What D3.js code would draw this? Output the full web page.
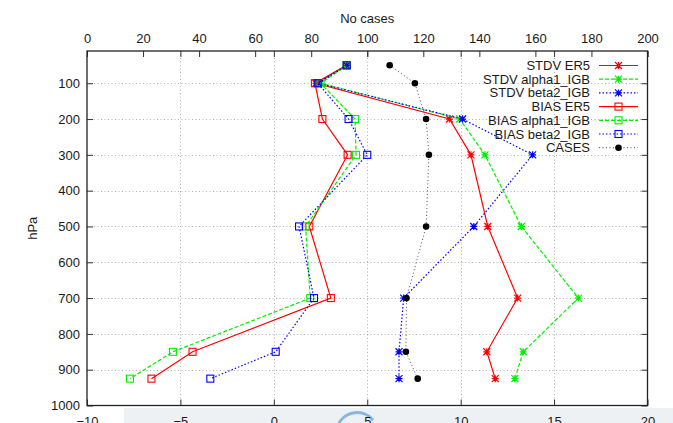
<!DOCTYPE html>
<html>
<head>
<meta charset="utf-8">
<script src="https://cdn.jsdelivr.net/npm/d3@7"></script>
<style>
  body { margin: 0; background: #fff; }
  svg { display: block; font-family: "Liberation Sans", Arial, Helvetica, sans-serif; }
</style>
</head>
<body>
<svg id="chart" width="673" height="423"></svg>
<script>
// Pressure levels (hPa) of the profile
const levels = [50, 100, 200, 300, 500, 700, 850, 925];

// Standard deviation profiles
const stdvEr5    = [3.9, 2.25, 9.4, 10.55, 11.45, 13.05, 11.4, 11.85];
const stdvAlpha1 = [3.9, 2.5, 9.95, 11.3, 13.25, 16.3, 13.35, 12.9];
const stdvBeta2  = [3.9, 2.4, 10.1, 13.85, 10.7, 6.95, 6.7, 6.7];

// Bias profiles
const biasEr5    = [3.9, 2.2, 2.6, 3.95, 1.9, 3.05, -4.35, -6.55];
const biasAlpha1 = [3.9, 2.5, 4.35, 4.4, 1.7, 1.95, -5.4, -7.7];
const biasBeta2  = [3.9, 2.35, 4.0, 5.0, 1.35, 2.15, 0.1, -3.4];

// Number of cases per level (top axis)
const cases = [108, 117, 121, 122, 121, 114, 113.8, 118];

// Tick values
const valueTicks = [-10, -5, 0, 5, 10, 15, 20];
const casesTicks = [0, 20, 40, 60, 80, 100, 120, 140, 160, 180, 200];
const levelTicks = [100, 200, 300, 400, 500, 600, 700, 800, 900, 1000];

const series = [
  { name: "STDV ER5",        values: stdvEr5,    color: "#ff0000", dash: null,    marker: "star",   axis: "value" },
  { name: "STDV alpha1_IGB", values: stdvAlpha1, color: "#00f000", dash: "4,2",   marker: "star",   axis: "value" },
  { name: "STDV beta2_IGB",  values: stdvBeta2,  color: "#0000ff", dash: "1.5,2", marker: "star",   axis: "value" },
  { name: "BIAS ER5",        values: biasEr5,    color: "#ff0000", dash: null,    marker: "square", axis: "value" },
  { name: "BIAS alpha1_IGB", values: biasAlpha1, color: "#00f000", dash: "4,2",   marker: "square", axis: "value" },
  { name: "BIAS beta2_IGB",  values: biasBeta2,  color: "#0000ff", dash: "1.5,2", marker: "square", axis: "value" },
  { name: "CASES",           values: cases,      color: "#000000", dash: "1,2.5", marker: "dot",    axis: "cases" }
];

const frame = { left: 87, right: 647.5, top: 51, bottom: 405.5 };
const svg = d3.select("#chart");
const textColor = "#1a1a1a";
const fontSize = 13;

const x = d3.scaleLinear().domain([-10, 20]).range([frame.left, frame.right]);
const xCases = d3.scaleLinear().domain([0, 200]).range([frame.left, frame.right]);
const y = d3.scaleLinear().domain([10, 1000]).range([frame.top, frame.bottom]);

// Bottom strip behind the lower tick labels
const strip = svg.append("g");
strip.append("rect")
  .attr("x", 124).attr("y", 408).attr("width", 673 - 124).attr("height", 15)
  .attr("fill", "#eef1f4");
strip.append("path")
  .attr("d", d3.arc()({ innerRadius: 19, outerRadius: 22, startAngle: -1.3, endAngle: 0.9 }))
  .attr("transform", "translate(357,433)")
  .attr("fill", "#6fa6dc").attr("opacity", 0.8);

// Dotted grid
const grid = svg.append("g").attr("stroke", "#b0b0b0").attr("stroke-width", 1)
  .attr("stroke-dasharray", "1,2.5");
grid.selectAll("line.h").data(levelTicks.filter(d => d < 1000)).join("line")
  .attr("x1", frame.left).attr("x2", frame.right)
  .attr("y1", d => Math.round(y(d)) + 0.5).attr("y2", d => Math.round(y(d)) + 0.5);
grid.selectAll("line.v").data(valueTicks.filter(d => d > -10 && d < 20)).join("line")
  .attr("y1", frame.top).attr("y2", frame.bottom)
  .attr("x1", d => Math.round(x(d)) + 0.5).attr("x2", d => Math.round(x(d)) + 0.5);

// Axes, ticks pointing inward
const tick = 6;
function styleAxis(g) {
  g.select(".domain").remove();
  g.selectAll(".tick line").attr("stroke", "#333");
  g.selectAll(".tick text").attr("fill", textColor).attr("font-size", fontSize)
    .attr("font-family", "Liberation Sans, Arial, sans-serif");
}
svg.append("g").attr("transform", `translate(0,${frame.bottom})`)
  .call(d3.axisBottom(x).tickValues(valueTicks).tickSize(-tick).tickPadding(11.5)
    .tickFormat(d3.format("d")))
  .call(styleAxis);
svg.append("g").attr("transform", `translate(0,${frame.top})`)
  .call(d3.axisTop(xCases).tickValues(casesTicks).tickSize(-tick).tickPadding(8)
    .tickFormat(d3.format("d")))
  .call(styleAxis);
// mirrored value ticks on the top edge
svg.append("g").attr("transform", `translate(0,${frame.top})`)
  .call(d3.axisTop(x).tickValues(valueTicks).tickSize(-tick).tickFormat(""))
  .call(styleAxis);
svg.append("g").attr("transform", `translate(${frame.left},0)`)
  .call(d3.axisLeft(y).tickValues(levelTicks).tickSize(-tick).tickPadding(7)
    .tickFormat(d3.format("d")))
  .call(styleAxis);
svg.append("g").attr("transform", `translate(${frame.right},0)`)
  .call(d3.axisRight(y).tickValues(levelTicks).tickSize(-tick).tickFormat(""))
  .call(styleAxis);

// Frame
svg.append("rect")
  .attr("x", frame.left).attr("y", frame.top)
  .attr("width", frame.right - frame.left).attr("height", frame.bottom - frame.top)
  .attr("fill", "none").attr("stroke", "#222").attr("stroke-width", 1.3);

// Axis titles
svg.append("text").attr("x", (frame.left + frame.right) / 2).attr("y", 18)
  .attr("text-anchor", "middle").attr("dominant-baseline", "central")
  .attr("font-size", fontSize).attr("fill", textColor).text("No cases");
svg.append("text")
  .attr("transform", `translate(32,${(frame.top + frame.bottom) / 2}) rotate(-90)`)
  .attr("text-anchor", "middle").attr("dominant-baseline", "central")
  .attr("font-size", fontSize).attr("fill", textColor).text("hPa");

// Marker drawing
const s = 3.5;
function drawMarker(g, type, color) {
  if (type === "star") {
    g.append("path")
      .attr("d", `M${-s},0H${s}M0,${-s}V${s}M${-s},${-s}L${s},${s}M${-s},${s}L${s},${-s}`)
      .attr("stroke", color).attr("stroke-width", 1.2).attr("fill", "none");
  } else if (type === "square") {
    g.append("rect").attr("x", -s).attr("y", -s).attr("width", 2 * s).attr("height", 2 * s)
      .attr("stroke", color).attr("stroke-width", 1.1).attr("fill", "none");
  } else {
    g.append("circle").attr("r", 3.3).attr("fill", color);
  }
}

// Profiles
const plot = svg.append("g");
series.forEach(sr => {
  const sx = sr.axis === "cases" ? xCases : x;
  const pts = levels.map((lv, i) => [sx(sr.values[i]), y(lv)]);
  plot.append("path")
    .attr("d", d3.line()(pts))
    .attr("fill", "none").attr("stroke", sr.color)
    .attr("stroke-width", sr.axis === "cases" ? 1 : 1.2)
    .attr("stroke-dasharray", sr.dash)
    .attr("opacity", sr.axis === "cases" ? 0.7 : 1);
  pts.forEach(p => {
    const g = plot.append("g").attr("transform", `translate(${p[0]},${p[1]})`);
    drawMarker(g, sr.marker, sr.color);
  });
});

// Legend
const legend = svg.append("g");
series.forEach((sr, i) => {
  const ly = 65.5 + i * 13.7;
  legend.append("text").attr("x", 590).attr("y", ly)
    .attr("text-anchor", "end").attr("dominant-baseline", "central")
    .attr("font-size", fontSize).attr("fill", textColor).text(sr.name);
  legend.append("line").attr("x1", 599).attr("x2", 638).attr("y1", ly).attr("y2", ly)
    .attr("stroke", sr.color).attr("stroke-width", sr.axis === "cases" ? 1 : 1.2)
    .attr("stroke-dasharray", sr.dash)
    .attr("opacity", sr.axis === "cases" ? 0.7 : 1);
  const g = legend.append("g").attr("transform", `translate(618.5,${ly})`);
  drawMarker(g, sr.marker, sr.color);
});
</script>
</body>
</html>
